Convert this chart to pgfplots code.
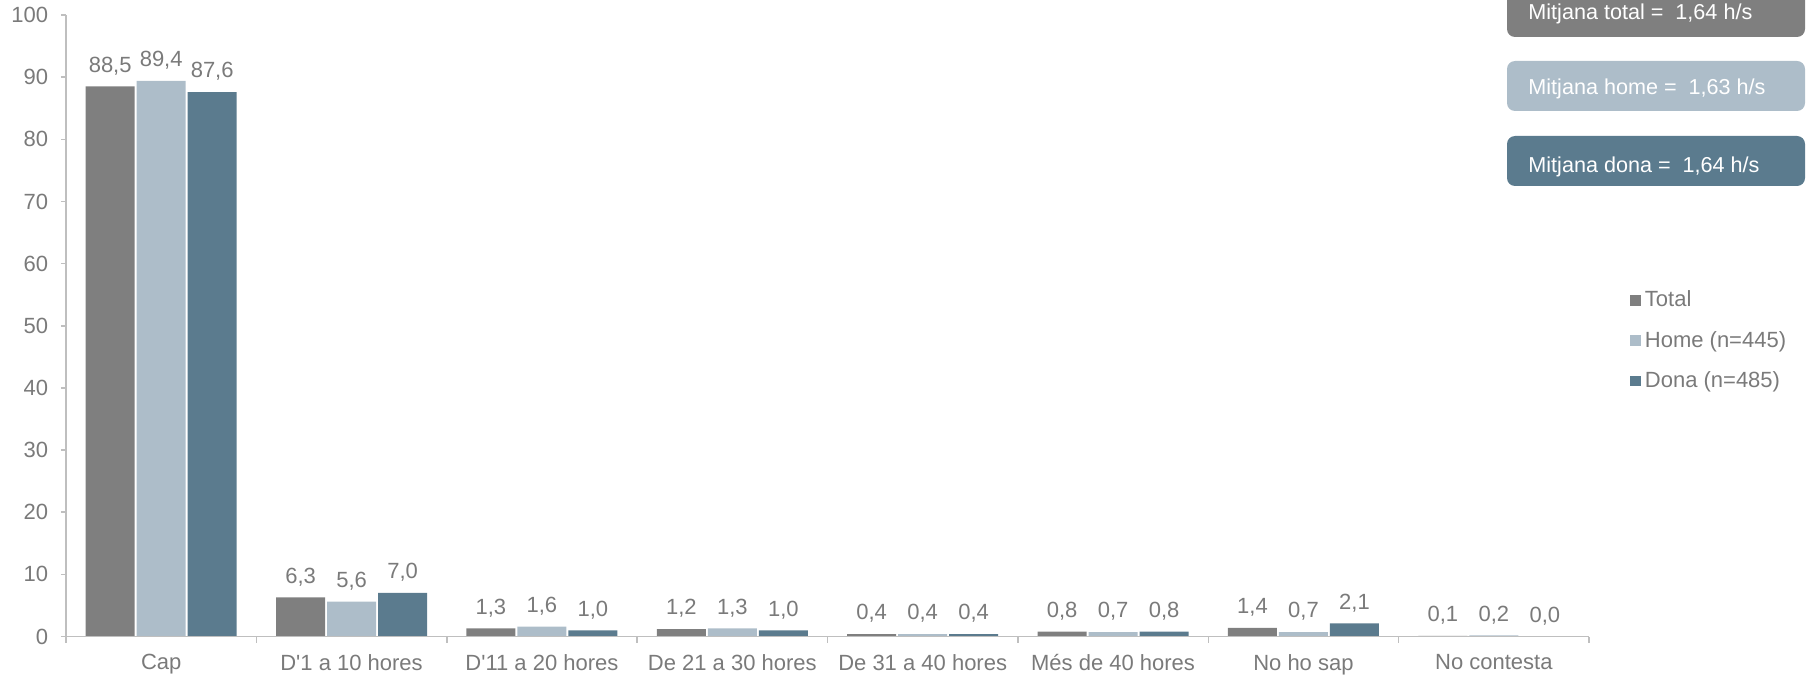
\documentclass[border=0pt]{standalone}
\usepackage{fontspec}
\setmainfont{Liberation Sans}
\usepackage{pgfplots}
\pgfplotsset{compat=1.18}
\pgfkeys{/pgf/number format/assume math mode=true}
\definecolor{cTotal}{HTML}{7F7F7F}
\definecolor{cHome}{HTML}{ADBDC9}
\definecolor{cDona}{HTML}{5B7B8E}
\definecolor{txt}{HTML}{7A7A7A}
\definecolor{axl}{HTML}{BFBFBF}
\begin{document}
\begin{tikzpicture}
\useasboundingbox (-33pt,-19.75pt) rectangle (872.5pt,318.25pt);
\begin{axis}[
  at={(0,0)}, anchor=south west,
  scale only axis, width=761.5pt, height=310.75pt,
  xmin=-0.5, xmax=7.5, ymin=0, ymax=100,
  axis lines=left, axis line style={-, draw=axl, line width=0.75pt},
  axis on top,
  ybar=1pt, bar width=24.5pt,
  xtick={0,...,7},
  xticklabels={Cap, D\textquotesingle1 a 10 hores, D\textquotesingle11 a 20 hores, De 21 a 30 hores, De 31 a 40 hores, Més de 40 hores, No ho sap, No contesta},
  minor xtick={-0.5,0.5,...,7.5},
  ytick={0,10,...,100},
  tick align=outside,
  major tick length=2.5pt, minor tick length=3pt,
  major x tick style={draw=none},
  minor x tick style={draw=axl, line width=0.75pt},
  major y tick style={draw=axl, line width=0.75pt},
  tick label style={font=\fontsize{11}{13}\selectfont, text=txt},
  yticklabel style={inner sep=0pt},
  xticklabel style={inner sep=0pt},
  yticklabel shift=6.3pt,
  xticklabel shift=6.3pt,
  nodes near coords={\pgfmathprintnumber[fixed,fixed zerofill,precision=1,use comma]{\pgfplotspointmeta}},
  nodes near coords style={font=\fontsize{11}{13}\selectfont, text=txt, inner sep=0pt, anchor=south, yshift=5.5pt},
  legend style={at={(1.027,0.476)}, anchor=west, inner sep=0pt, outer sep=0pt, draw=none, fill=none,
    font=\fontsize{11}{13}\selectfont, text=txt, row sep=6.7pt,
    /tikz/every even column/.append style={column sep=0pt}},
  legend cell align=left,
  legend image code/.code={\fill[#1] (0pt,-2.7pt) rectangle (5.4pt,2.7pt);},
]
\addplot[fill=cTotal, draw=none] coordinates {(0,88.5) (1,6.3) (2,1.3) (3,1.2) (4,0.4) (5,0.8) (6,1.4) (7,0.1)};
\addplot[fill=cHome, draw=none] coordinates {(0,89.4) (1,5.6) (2,1.6) (3,1.3) (4,0.4) (5,0.7) (6,0.7) (7,0.2)};
\addplot[fill=cDona, draw=none] coordinates {(0,87.6) (1,7.0) (2,1.0) (3,1.0) (4,0.4) (5,0.8) (6,2.1) (7,0.0)};
\legend{Total, Home (n=445), Dona (n=485)}
\end{axis}
\fill[cTotal, rounded corners=4pt] (720.5pt,299.75pt) rectangle (869.5pt,330pt);
\fill[cHome, rounded corners=4pt] (720.5pt,262.75pt) rectangle (869.5pt,287.75pt);
\fill[cDona, rounded corners=4pt] (720.5pt,225.25pt) rectangle (869.5pt,250.25pt);
\node[anchor=base west, inner sep=0pt, text=white, font=\fontsize{10.8}{12}\selectfont] at (731pt,308.25pt) {Mitjana total =\ \ 1,64 h/s};
\node[anchor=base west, inner sep=0pt, text=white, font=\fontsize{10.8}{12}\selectfont] at (731pt,270.75pt) {Mitjana home =\ \ 1,63 h/s};
\node[anchor=base west, inner sep=0pt, text=white, font=\fontsize{10.8}{12}\selectfont] at (731pt,232.25pt) {Mitjana dona =\ \ 1,64 h/s};
\end{tikzpicture}
\end{document}
